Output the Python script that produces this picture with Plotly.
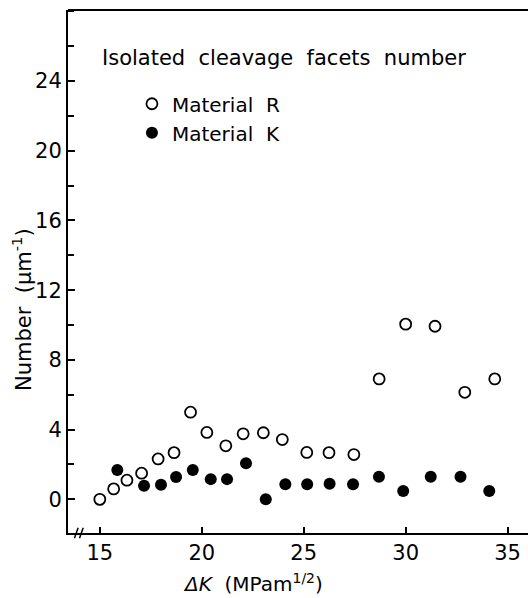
import plotly.graph_objects as go

# Material R (open circles)
r_dk = [15.0, 15.68, 16.33, 17.05, 17.86, 18.64, 19.45, 20.25, 21.18, 22.03, 23.02, 23.95,
        25.15, 26.24, 27.46, 28.70, 30.0, 31.44, 32.90, 34.37]
r_num = [0.0, 0.6, 1.1, 1.5, 2.32, 2.68, 5.0, 3.84, 3.07, 3.76, 3.82, 3.43,
         2.69, 2.68, 2.57, 6.91, 10.05, 9.93, 6.14, 6.91]

# Material K (filled circles)
k_dk = [15.86, 17.17, 18.0, 18.74, 19.56, 20.44, 21.24, 22.17, 23.14, 24.1, 25.17, 26.27,
        27.42, 28.69, 29.88, 31.23, 32.69, 34.1]
k_num = [1.68, 0.78, 0.84, 1.28, 1.68, 1.16, 1.16, 2.07, 0.01, 0.86, 0.86, 0.89,
         0.86, 1.30, 0.48, 1.30, 1.30, 0.48]

x_ticks = [15, 20, 25, 30, 35]
y_ticks = [0, 4, 8, 12, 16, 20, 24]

FONT = "DejaVu Sans"

fig = go.Figure()
fig.add_trace(go.Scatter(
    x=r_dk, y=r_num, mode="markers", name="Material  R",
    marker=dict(symbol="circle-open", size=11, color="black", line=dict(width=1.8)),
))
fig.add_trace(go.Scatter(
    x=k_dk, y=k_num, mode="markers", name="Material  K",
    marker=dict(symbol="circle", size=12, color="black"),
))

fig.update_layout(
    width=528, height=598,
    margin=dict(l=68, r=0, t=10, b=65),
    paper_bgcolor="white", plot_bgcolor="white",
    font=dict(family=FONT, size=20, color="black"),
    showlegend=True,
    legend=dict(x=0.139, y=0.858, xanchor="left", yanchor="top",
                font=dict(family=FONT, size=20, color="black"),
                bgcolor="rgba(0,0,0,0)", tracegroupgap=0, itemwidth=30),
    xaxis=dict(range=[13.44, 36.0], tickvals=x_ticks, ticktext=[str(v) for v in x_ticks],
               showgrid=False, zeroline=False, showline=True, linecolor="black", linewidth=2,
               mirror=False, ticks="inside", ticklen=6, tickwidth=1.5, tickcolor="black",
               tickfont=dict(family=FONT, size=21)),
    yaxis=dict(range=[-1.93, 28.07], tickvals=y_ticks, ticktext=[str(v) for v in y_ticks],
               showgrid=False, zeroline=False, showline=True, linecolor="black", linewidth=2,
               ticks="inside", ticklen=7, tickwidth=1.5, tickcolor="black",
               tickfont=dict(family=FONT, size=21),
               minor=dict(dtick=2, tick0=0, ticks="inside", ticklen=6, tickwidth=1.5, tickcolor="black")),
)

# top border line
fig.add_shape(type="line", xref="paper", yref="paper", x0=0, x1=1, y0=1, y1=1,
              line=dict(color="black", width=2))

# axis break marks on x axis
for px in (0.018, 0.029):
    fig.add_shape(type="line", xref="paper", yref="paper",
                  x0=px - 0.004, x1=px + 0.004, y0=-0.01, y1=0.01,
                  line=dict(color="black", width=1.5))

fig.add_annotation(text="Isolated  cleavage  facets  number", xref="paper", yref="paper",
                   x=0.069, y=0.909, xanchor="left", yanchor="middle", showarrow=False,
                   font=dict(family=FONT, size=21, color="black"))
fig.add_annotation(text="<i>ΔK</i>  (MPam<sup>1/2</sup>)", xref="paper", yref="paper",
                   x=(253 - 68) / 460, y=-(583 - 533) / 523, xanchor="center", yanchor="middle",
                   showarrow=False, font=dict(family=FONT, size=20, color="black"))
fig.add_annotation(text="Number  (μm<sup>-1</sup>)", xref="paper", yref="paper",
                   x=-(68 - 22) / 460, y=(533 - 310) / 523, xanchor="center", yanchor="middle",
                   textangle=-90, showarrow=False, font=dict(family=FONT, size=21, color="black"))

fig.write_html("out.html")
